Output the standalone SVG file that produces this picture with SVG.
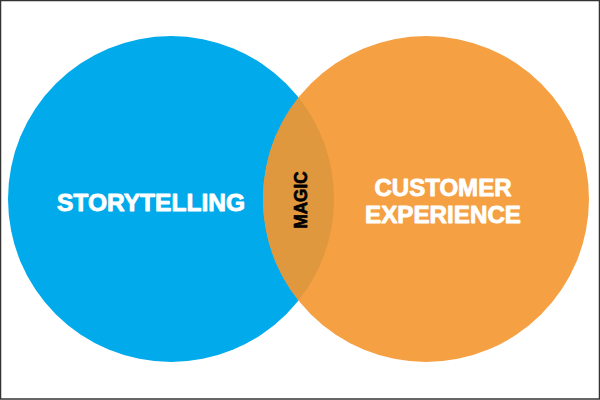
<svg xmlns="http://www.w3.org/2000/svg" width="600" height="400" viewBox="0 0 600 400">
<style>
.lbl{font-family:"Liberation Sans",Arial,sans-serif;font-weight:700;text-anchor:middle;stroke-linejoin:round}
.w{fill:#ffffff;stroke:#ffffff;stroke-width:0.9px;font-size:24px}
.k{fill:#000000;stroke:#000000;stroke-width:0.7px;font-size:18px}
</style>
<rect x="0" y="0" width="600" height="400" fill="#ffffff"/>
<g id="storytelling">
<circle cx="171" cy="199" r="163" fill="#00AAEB"/>
<text class="lbl w" x="151" y="211" textLength="188" lengthAdjust="spacingAndGlyphs">STORYTELLING</text>
</g>
<g id="customer-experience">
<circle cx="426" cy="199" r="163" fill="#F5A042"/>
<text class="lbl w" x="443" y="196" textLength="137" lengthAdjust="spacingAndGlyphs">CUSTOMER</text>
<text class="lbl w" x="443" y="223" textLength="156" lengthAdjust="spacingAndGlyphs">EXPERIENCE</text>
</g>
<g id="magic">
<path d="M298.5,97.4 A163,163 0 0,1 298.5,300.6 A163,163 0 0,1 298.5,97.4 Z" fill="#E0983F"/>
<text class="lbl k" transform="translate(307,200) rotate(-90)" x="0" y="0" textLength="57" lengthAdjust="spacingAndGlyphs">MAGIC</text>
</g>
<g id="connectors"></g>
<rect x="0.5" y="0.5" width="599" height="398.5" fill="none" stroke="#333333" stroke-width="1.5"/>
</svg>
